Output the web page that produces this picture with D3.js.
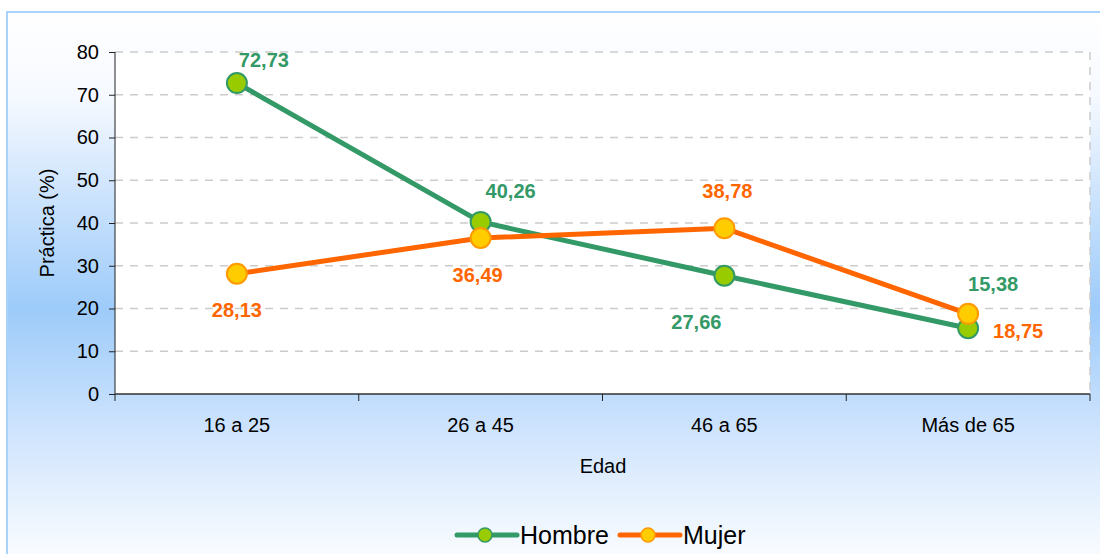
<!DOCTYPE html>
<html lang="es">
  <head>
    <meta charset="UTF-8" />
    <title>Práctica por edad</title>
    <style>
      body { margin: 0; }
      svg { font-family: 'Liberation Sans', Arial, sans-serif; display: block; }
    </style>
  </head>
  <body>
    <svg width="1100" height="554"></svg>
    <script src="https://d3js.org/d3.v7.min.js"></script>
    <script>
      // data
      const categories = ['16 a 25', '26 a 45', '46 a 65', 'Más de 65'];
      const hombre = [72.73, 40.26, 27.66, 15.38];
      const mujer = [28.13, 36.49, 38.78, 18.75];
      const yTicks = [0, 10, 20, 30, 40, 50, 60, 70, 80];

      // label offsets (layout only)
      const hombreOff = [[27, -23], [30, -31], [-28, 46], [25, -44]];
      const mujerOff = [[0, 36], [-3, 37], [3, -37], [50, 17]];

      const svg = d3.select('svg'),
        margin = { top: 52, left: 115 },
        width = 1090,
        y0 = 394,
        axisFont = 20;

      const defs = svg.append('defs');
      const grad = defs.append('linearGradient')
        .attr('id', 'bg').attr('x1', 0).attr('x2', 0).attr('y1', 0).attr('y2', 1);
      grad.append('stop').attr('offset', '0%').attr('stop-color', '#ffffff');
      grad.append('stop').attr('offset', '15%').attr('stop-color', '#f6f9ff');
      grad.append('stop').attr('offset', '53%').attr('stop-color', '#9dcbfa');
      grad.append('stop').attr('offset', '75%').attr('stop-color', '#cfe4fd');
      grad.append('stop').attr('offset', '100%').attr('stop-color', '#ffffff');

      svg.append('rect').attr('x', 7).attr('y', 12).attr('width', 1100).attr('height', 560)
        .attr('fill', 'url(#bg)').attr('stroke', '#a9d3ff').attr('stroke-width', 2);

      const x = d3.scaleBand().domain(categories).range([margin.left, width]);
      const y = d3.scaleLinear().domain([0, 80]).range([y0, margin.top]);

      svg.append('rect').attr('x', margin.left).attr('y', margin.top)
        .attr('width', width - margin.left).attr('height', y0 - margin.top)
        .attr('fill', '#ffffff');

      // grid
      svg.append('g').selectAll('line').data(yTicks.filter(d => d > 0)).join('line')
        .attr('x1', margin.left).attr('x2', width)
        .attr('y1', d => y(d)).attr('y2', d => y(d))
        .attr('stroke', '#cccccc').attr('stroke-width', 1.5).attr('stroke-dasharray', '8,7');
      svg.append('line').attr('x1', width).attr('x2', width)
        .attr('y1', margin.top).attr('y2', y0)
        .attr('stroke', '#cccccc').attr('stroke-width', 1.5).attr('stroke-dasharray', '8,7');

      // axes
      const yAxis = svg.append('g').attr('transform', `translate(${margin.left},0)`)
        .call(d3.axisLeft(y).tickValues(yTicks).tickSize(6).tickPadding(10));
      yAxis.attr('font-size', null).attr('font-family', null);
      yAxis.selectAll('text').attr('font-size', axisFont).attr('fill', '#000');
      yAxis.selectAll('line, path').attr('stroke', '#222');
      yAxis.select('path').attr('d', `M0,${margin.top}V${y0}`);

      const xb = d3.scaleLinear().domain([0, 4]).range([margin.left, width]);
      const xAxis = svg.append('g').attr('transform', `translate(0,${y0})`);
      xAxis.append('line').attr('x1', margin.left).attr('x2', width)
        .attr('stroke', '#333').attr('stroke-width', 1.5);
      xAxis.selectAll('.tk').data(d3.range(5)).join('line')
        .attr('x1', d => xb(d)).attr('x2', d => xb(d)).attr('y1', 0).attr('y2', 7)
        .attr('stroke', '#222');
      xAxis.selectAll('text').data(categories).join('text')
        .attr('x', d => x(d) + x.bandwidth() / 2).attr('y', 38)
        .attr('text-anchor', 'middle').attr('font-size', axisFont).text(d => d);

      svg.append('text').attr('x', 603).attr('y', 473).attr('text-anchor', 'middle')
        .attr('font-size', axisFont).text('Edad');
      svg.append('text').attr('transform', 'translate(54,223) rotate(-90)')
        .attr('text-anchor', 'middle').attr('font-size', axisFont).text('Práctica (%)');

      const fmt = v => d3.format('.2f')(v).replace('.', ',');
      const series = [
        { name: 'Hombre', values: hombre, line: '#339966', fill: '#99cc00', stroke: '#339966', off: hombreOff },
        { name: 'Mujer', values: mujer, line: '#ff6600', fill: '#ffcc00', stroke: '#ff9900', off: mujerOff }
      ];
      const line = d3.line().x((d, i) => x(categories[i]) + x.bandwidth() / 2).y(d => y(d));

      series.forEach(s => {
        svg.append('path').datum(s.values).attr('d', line)
          .attr('fill', 'none').attr('stroke', s.line).attr('stroke-width', 5)
          .attr('stroke-linejoin', 'round');
      });
      series.forEach(s => {
        svg.append('g').selectAll('circle').data(s.values).join('circle')
          .attr('cx', (d, i) => x(categories[i]) + x.bandwidth() / 2)
          .attr('cy', d => y(d)).attr('r', 10)
          .attr('fill', s.fill).attr('stroke', s.stroke).attr('stroke-width', 2);
      });
      series.forEach(s => {
        svg.append('g').selectAll('text').data(s.values).join('text')
          .attr('x', (d, i) => x(categories[i]) + x.bandwidth() / 2 + s.off[i][0])
          .attr('y', (d, i) => y(d) + s.off[i][1])
          .attr('text-anchor', 'middle').attr('dy', '0.36em')
          .attr('font-size', 20).attr('font-weight', 'bold').attr('fill', s.line)
          .text(d => fmt(d));
      });

      // legend
      const legX = [457, 620];
      series.forEach((s, i) => {
        const g = svg.append('g').attr('transform', `translate(${legX[i]},535)`);
        g.append('line').attr('x1', 0).attr('x2', 60).attr('stroke', s.line)
          .attr('stroke-width', 5).attr('stroke-linecap', 'round');
        g.append('circle').attr('cx', 28).attr('r', 7)
          .attr('fill', s.fill).attr('stroke', s.stroke).attr('stroke-width', 1.5);
        g.append('text').attr('x', 63).attr('dy', '0.36em').attr('font-size', 25).text(s.name);
      });
    </script>
  </body>
</html>
